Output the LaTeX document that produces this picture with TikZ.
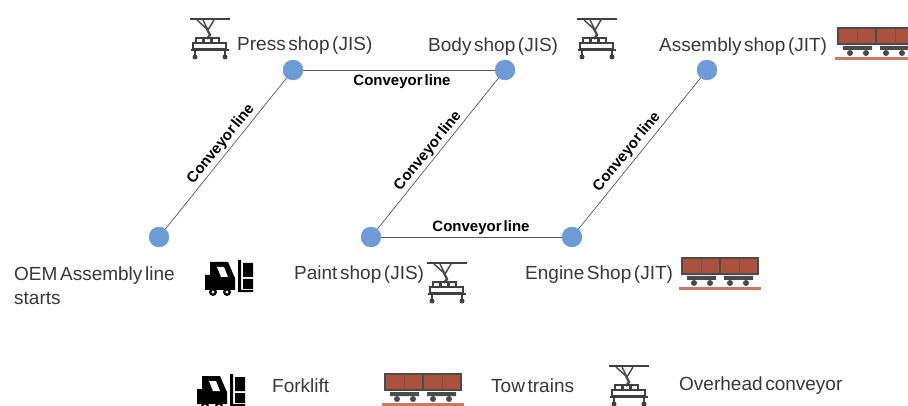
\documentclass[tikz,border=0pt]{standalone}
\usepackage{fontspec}
\setmainfont[WordSpace=0.5]{Liberation Sans}
\usetikzlibrary{positioning}
\definecolor{DotBlue}{RGB}{108, 155, 214}
\definecolor{LineGrey}{RGB}{90, 90, 90}
\definecolor{WagonRed}{RGB}{170, 82, 62}
\definecolor{WagonDark}{RGB}{75, 75, 75}
\definecolor{RailRed}{RGB}{205, 120, 100}
\tikzset{
    crane/.pic={
        \fill[black!75] (-20,-21) rectangle (20,-19);
        \draw[black!70, line width=1.5pt] (-13,-19) -- (-2,-9) (-7,-19) -- (-2,-9) (4,-19) -- (-2,-9);
        \draw[black!70, line width=2.4pt] (-3,-10) -- (0,-4) -- (-3,0);
        \draw[black!75, line width=1.6pt] (-14,-1) rectangle (-7,4) (-6,-1) rectangle (1,4) (2,-1) rectangle (9,4) (-17,4) rectangle (16,10);
        \draw[black!75, line width=2pt] (-19,11) -- (19,11) (-15,11) -- (-15,18) (15,11) -- (15,18);
        \fill[black!75] (-15,18) circle (2.5) (15,18) circle (2.5);
    },
    wagons/.pic={
        \fill[WagonRed] (-38,-16) rectangle (38,0);
        \draw[WagonDark, line width=1.4pt] (-38,-16) rectangle (38,0) (0,-16) -- (0,0);
        \draw[WagonDark!50!WagonRed, line width=0.5pt] (-19,-16) -- (-19,0) (19,-16) -- (19,0);
        \fill[WagonDark] (-33,2) rectangle (-4,6) (4,2) rectangle (33,6);
        \fill[WagonDark] (-26,9) circle (3) (-10,9) circle (3) (10,9) circle (3) (26,9) circle (3);
        \fill[RailRed] (-41,13) rectangle (41,16);
    },
    forklift/.pic={
        \fill[black] (-23,-3) -- (-18,-3) -- (-18,-16) -- (0,-16) -- (6,-2) -- (7,0) -- (7,12) -- (-23,12) -- cycle;
        \fill[white] (-11,-11) -- (-4,-11) -- (0,-1) -- (-7,-1) -- cycle;
        \fill[black] (-15,14) circle (4) (-1,14) circle (4);
        \fill[white] (-15,14) circle (1.6) (-1,14) circle (1.6);
        \fill[black] (10,-18) rectangle (13,14) (10,12) rectangle (25,14) (15,-15) rectangle (25,-1) (15,1) rectangle (25,11);
    }
}
\begin{document}
\begin{tikzpicture}[
                    x=1pt, y=-1pt,
                    dot/.style={circle, fill=DotBlue, draw=DotBlue, inner sep=0pt, minimum size=20pt},
                    lbl/.style={font=\fontsize{19}{24}\selectfont, text=black!78, inner sep=0pt},
                    conv/.style={font=\fontsize{15}{17}\selectfont\bfseries, inner sep=0pt},
                    link/.style={draw=LineGrey, line width=0.7pt}
                ]
                    \useasboundingbox (0,0) rectangle (908,406);
                    \node[dot] (oem) at (159,237) {};
                    \node[dot] (press) at (293,70) {};
                    \node[dot] (body) at (505,70) {};
                    \node[dot] (assembly) at (707,70) {};
                    \node[dot] (paint) at (371,237) {};
                    \node[dot] (engine) at (572,237) {};

                    \draw[link] (oem) -- (press);
                    \draw[link] (press) -- (body);
                    \draw[link] (body) -- (paint);
                    \draw[link] (paint) -- (engine);
                    \draw[link] (engine) -- (assembly);

                    \node[conv, rotate=51] (c1) at (221,144) {Conveyor line};
                    \node[conv] (c2) at (402,82) {Conveyor line};
                    \node[conv, rotate=51] (c3) at (428,151) {Conveyor line};
                    \node[conv] (c4) at (481,228) {Conveyor line};
                    \node[conv, rotate=51] (c5) at (627,152) {Conveyor line};

                    \node[lbl, anchor=west] (presslbl) at (237,46) {Press shop (JIS)};
                    \node[lbl, anchor=west] (bodylbl) at (428,47) {Body shop (JIS)};
                    \node[lbl, anchor=west] (assemblylbl) at (659,47) {Assembly shop (JIT)};
                    \node[lbl, anchor=west, align=left] (oemlbl) at (14,286) {OEM Assembly line\\starts};
                    \node[lbl, anchor=west] (paintlbl) at (294,275) {Paint shop (JIS)};
                    \node[lbl, anchor=west] (enginelbl) at (525,275) {Engine Shop (JIT)};
                    \node[lbl, anchor=west] (forkliftlbl) at (272,386) {Forklift};
                    \node[lbl, anchor=west] (towlbl) at (491,386) {Tow trains};
                    \node[lbl, anchor=west] (overheadlbl) at (679,386) {Overhead conveyor};

                    \pic at (210,39) {crane};
                    \pic at (597,39) {crane};
                    \pic at (447,283) {crane};
                    \pic at (629,386) {crane};
                    \pic at (876,44) {wagons};
                    \pic at (720,274) {wagons};
                    \pic at (423,390) {wagons};
                    \pic at (228,278) {forklift};
                    \pic at (220,392) {forklift};
                \end{tikzpicture}
\end{document}
